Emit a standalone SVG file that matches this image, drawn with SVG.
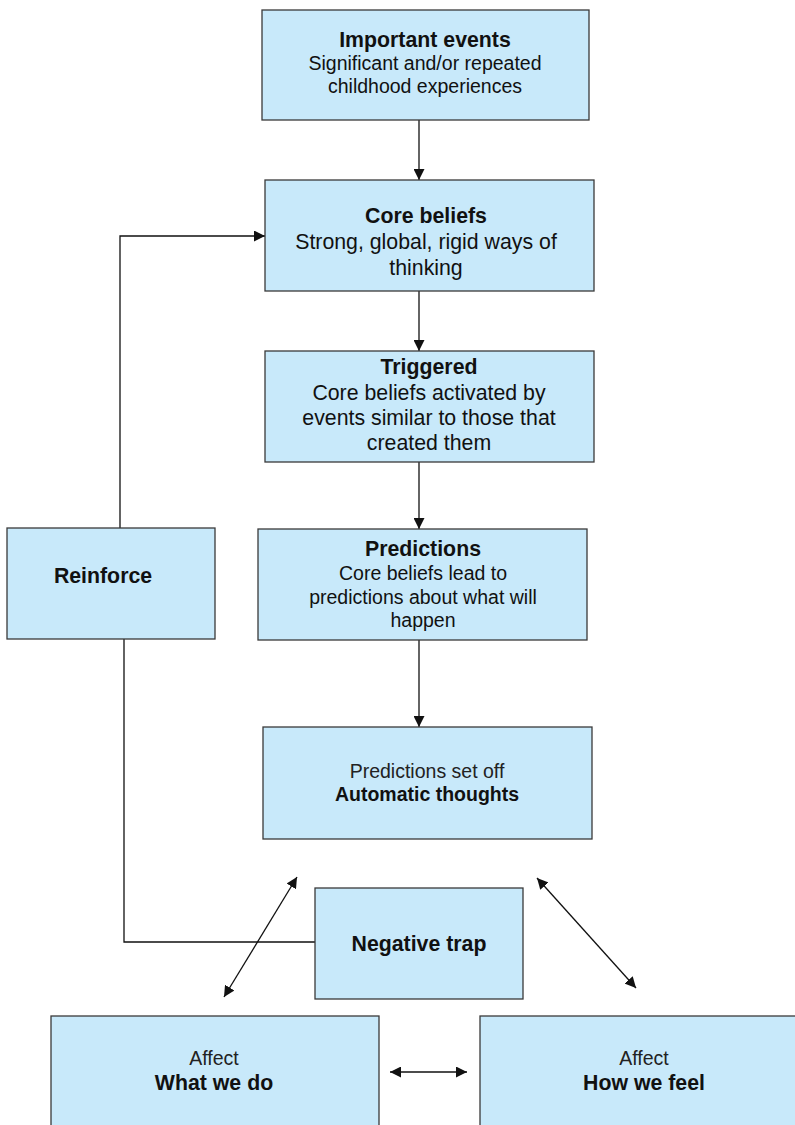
<svg xmlns="http://www.w3.org/2000/svg" width="795" height="1125" viewBox="0 0 795 1125">
<style>
.box{fill:#c8e9fa;stroke:#3a3a3a;stroke-width:1.3}
text{font-family:"Liberation Sans",Arial,sans-serif;fill:#111;text-anchor:middle}
.t{font-weight:bold;font-size:21.3px}
.b{font-size:21.3px}
.s{font-size:19.5px}
.l{font-size:19.5px;fill:#222}
.c{fill:none;stroke:#111;stroke-width:1.3}
</style>
<defs>
<marker id="ah" viewBox="0 0 10 10" refX="10" refY="5" markerWidth="11" markerHeight="11" markerUnits="userSpaceOnUse" orient="auto-start-reverse">
<path d="M0,0 L10,5 L0,10 z" fill="#111"/>
</marker>
</defs>
<rect width="795" height="1125" fill="#fff"/>
<g id="connectors">
<line class="c" x1="419" y1="120" x2="419" y2="180" marker-end="url(#ah)"/>
<line class="c" x1="419" y1="291" x2="419" y2="351" marker-end="url(#ah)"/>
<line class="c" x1="419" y1="462" x2="419" y2="529" marker-end="url(#ah)"/>
<line class="c" x1="419" y1="640" x2="419" y2="727" marker-end="url(#ah)"/>
<polyline class="c" points="120,528 120,236 265,236" marker-end="url(#ah)"/>
<polyline class="c" points="124,639 124,942 316,942"/>
<line class="c" x1="297" y1="877" x2="224" y2="997" marker-start="url(#ah)" marker-end="url(#ah)"/>
<line class="c" x1="537" y1="878" x2="636" y2="988" marker-start="url(#ah)" marker-end="url(#ah)"/>
<line class="c" x1="390" y1="1072" x2="467" y2="1072" marker-start="url(#ah)" marker-end="url(#ah)"/>
</g>
<g id="important-events">
<rect class="box" x="262" y="10" width="327" height="110"/>
<text class="t" x="425" y="47">Important events</text>
<text class="s" x="425" y="70">Significant and/or repeated</text>
<text class="s" x="425" y="93">childhood experiences</text>
</g>
<g id="core-beliefs">
<rect class="box" x="265" y="180" width="329" height="111"/>
<text class="t" x="426" y="223">Core beliefs</text>
<text class="b" x="426" y="249">Strong, global, rigid ways of</text>
<text class="b" x="426" y="275">thinking</text>
</g>
<g id="triggered">
<rect class="box" x="265" y="351" width="329" height="111"/>
<text class="t" x="429" y="374">Triggered</text>
<text class="b" x="429" y="400">Core beliefs activated by</text>
<text class="b" x="429" y="425">events similar to those that</text>
<text class="b" x="429" y="450">created them</text>
</g>
<g id="predictions">
<rect class="box" x="258" y="529" width="329" height="111"/>
<text class="t" x="423" y="556">Predictions</text>
<text class="s" x="423" y="580">Core beliefs lead to</text>
<text class="s" x="423" y="604">predictions about what will</text>
<text class="s" x="423" y="627">happen</text>
</g>
<g id="reinforce">
<rect class="box" x="7" y="528" width="208" height="111"/>
<text class="t" x="103" y="583">Reinforce</text>
</g>
<g id="automatic-thoughts">
<rect class="box" x="263" y="727" width="329" height="112"/>
<text class="l" x="427" y="778">Predictions set off</text>
<text class="t" x="427" y="801" style="font-size:19.5px">Automatic thoughts</text>
</g>
<g id="negative-trap">
<rect class="box" x="315" y="888" width="208" height="111"/>
<text class="t" x="419" y="951">Negative trap</text>
</g>
<g id="what-we-do">
<rect class="box" x="51" y="1016" width="328" height="115"/>
<text class="l" x="214" y="1065">Affect</text>
<text class="t" x="214" y="1090">What we do</text>
</g>
<g id="how-we-feel">
<rect class="box" x="480" y="1016" width="330" height="115"/>
<text class="l" x="644" y="1065">Affect</text>
<text class="t" x="644" y="1090">How we feel</text>
</g>
</svg>
